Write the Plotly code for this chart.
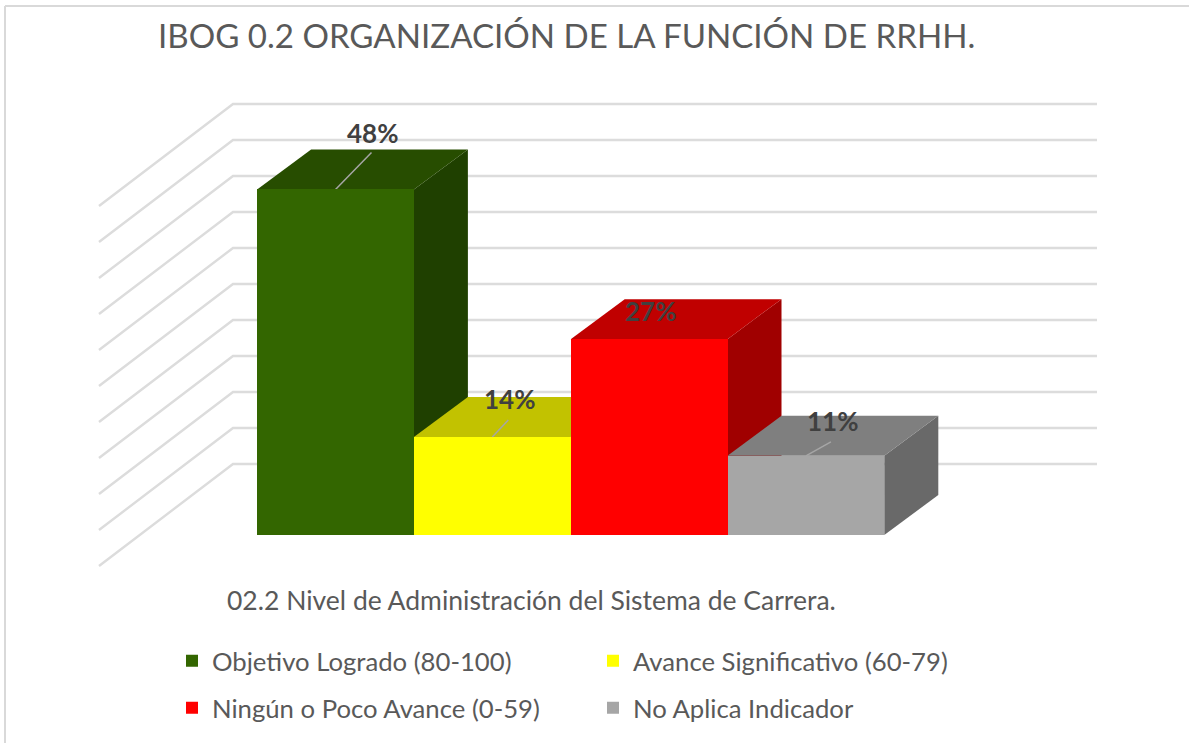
import plotly.graph_objects as go

# ---------- data ----------
categories = ["Objetivo Logrado (80-100)", "Avance Significativo (60-79)",
              "Ningún o Poco Avance (0-59)", "No Aplica Indicador"]
values = [48, 13.6, 27.2, 11]
value_labels = ["48%", "14%", "27%", "11%"]
positions = [0, 1, 2, 3]
grid_values = [0, 5, 10, 15, 20, 25, 30, 35, 40, 45, 50]
front_colors = ["#336600", "#FFFF00", "#FF0000", "#A6A6A6"]
top_colors = ["#274D00", "#C2C200", "#C00000", "#7F7F7F"]
side_colors = ["#1F4000", "#A0A000", "#A00000", "#696969"]

title_text = "IBOG 0.2 ORGANIZACIÓN DE LA FUNCIÓN DE RRHH."
axis_text = "02.2 Nivel de Administración del Sistema de Carrera."

# ---------- layout constants (pixels) ----------
W, H = 1189, 743
PX_PER_CAT = 156.8
PX_PER_VAL = 7.2
ORIGIN_X = 335.5     # centre of first bar
ORIGIN_Y = 535       # chart baseline
FONT = "Lato"
TXT = "#595959"

def ux(px):
    return px / PX_PER_CAT

def uy(px):
    return px / PX_PER_VAL

BAR_DX, BAR_DY = ux(54), uy(40)
x_range = [-ORIGIN_X / PX_PER_CAT, (W - ORIGIN_X) / PX_PER_CAT]
y_range = [-(H - ORIGIN_Y) / PX_PER_VAL, ORIGIN_Y / PX_PER_VAL]

# label offset from the bar's front-top centre and leader line tip, in pixels
label_shift = [(36.5, 56), (17, 38), (1, 28), (27, 35)]
leader_tip = [(36, 37), (16, 17), None, (25, 14)]

fig = go.Figure()

# ---------- walls: grid lines run from the front of the floor to the back wall ----------
WALL_LEFT = ux(233 - ORIGIN_X)
WALL_RIGHT = ux(1097 - ORIGIN_X)
WALL_DX, WALL_DY = ux(134), uy(102)
WALL_BASE = uy(ORIGIN_Y - 464)
for g in grid_values:
    fig.add_trace(go.Scatter(
        x=[WALL_LEFT - WALL_DX, WALL_LEFT, WALL_RIGHT],
        y=[g + WALL_BASE - WALL_DY, g + WALL_BASE, g + WALL_BASE],
        mode="lines", line=dict(color="#DCDCDC", width=2.4),
        showlegend=False, hoverinfo="skip"))

# ---------- depth faces, painted left to right ----------
for p, v, sc, tc in zip(positions, values, side_colors, top_colors):
    l, r = p - 0.5, p + 0.5
    fig.add_trace(go.Scatter(
        x=[r, r + BAR_DX, r + BAR_DX, r, r], y=[0, BAR_DY, v + BAR_DY, v, 0],
        mode="lines", fill="toself", fillcolor=sc, line=dict(width=0),
        showlegend=False, hoverinfo="skip"))
    fig.add_trace(go.Scatter(
        x=[l, l + BAR_DX, r + BAR_DX, r, l], y=[v, v + BAR_DY, v + BAR_DY, v, v],
        mode="lines", fill="toself", fillcolor=tc, line=dict(width=0),
        showlegend=False, hoverinfo="skip"))

# ---------- leader lines ----------
for p, v, tip in zip(positions, values, leader_tip):
    if tip is None:
        continue
    fig.add_trace(go.Scatter(
        x=[p, p + ux(tip[0])], y=[v, v + uy(tip[1])],
        mode="lines", line=dict(color="#A6A6A6", width=1.5),
        showlegend=False, hoverinfo="skip"))

# ---------- front faces: real bars on an overlaying axis pair ----------
legends = ["legend", "legend", "legend2", "legend2"]
for c, p, v, fc, lg in zip(categories, positions, values, front_colors, legends):
    fig.add_trace(go.Bar(
        x=[p], y=[v], width=1, name=c, marker=dict(color=fc, line=dict(width=0)),
        xaxis="x2", yaxis="y2", legend=lg,
        hovertemplate=c + ": %{y}%<extra></extra>"))

annotations = [
    dict(x=p, y=v, xref="x", yref="y", text=t, showarrow=False,
         xshift=s[0], yshift=s[1],
         font=dict(family=FONT, size=26, color="#404040", weight="bold"))
    for p, v, t, s in zip(positions, values, value_labels, label_shift)
]
annotations.append(dict(
    x=531 / W, y=1 - 600 / H, xref="paper", yref="paper", text=axis_text,
    xanchor="center", yanchor="middle",
    showarrow=False, font=dict(family=FONT, size=26.5, color=TXT)))

legend_style = dict(orientation="h", entrywidth=376, entrywidthmode="pixels",
                    xanchor="left", yanchor="middle", bgcolor="rgba(0,0,0,0)",
                    font=dict(family=FONT, size=25.7, color=TXT))

axis_off = dict(visible=False, fixedrange=True)
fig.update_layout(
    width=W, height=H, margin=dict(l=0, r=0, t=0, b=0),
    paper_bgcolor="white", plot_bgcolor="white",
    barmode="overlay", bargap=0,
    title=dict(text=title_text, x=158 / W, xanchor="left", xref="paper",
               y=1 - 36 / H, yanchor="middle", yref="paper",
               font=dict(family=FONT, size=33.1, color=TXT)),
    xaxis=dict(range=x_range, **axis_off),
    yaxis=dict(range=y_range, **axis_off),
    xaxis2=dict(range=x_range, overlaying="x", **axis_off),
    yaxis2=dict(range=y_range, overlaying="y", **axis_off),
    legend=dict(x=172 / W, y=1 - 661 / H, **legend_style),
    legend2=dict(x=172 / W, y=1 - 708 / H, **legend_style),
    annotations=annotations,
    shapes=[
        dict(type="line", xref="paper", yref="paper", x0=5 / W, x1=5 / W,
             y0=0, y1=1 - 6 / H, line=dict(color="#D9D9D9", width=2)),
        dict(type="line", xref="paper", yref="paper", x0=5 / W, x1=1,
             y0=1 - 6 / H, y1=1 - 6 / H, line=dict(color="#D9D9D9", width=2)),
    ],
)

fig.write_html("out.html", post_script="document.body.style.margin='0';",
               config={"displayModeBar": False})
